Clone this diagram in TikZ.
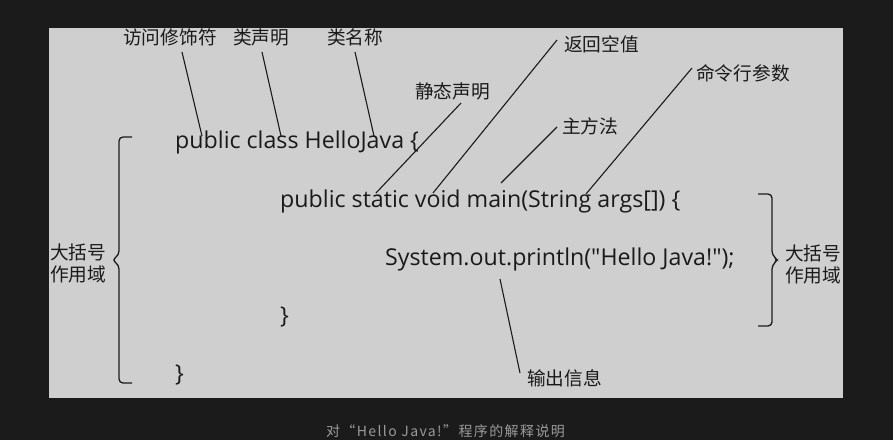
\documentclass[tikz,border=0pt]{standalone}
\usepackage{fontspec}
\setmainfont{Open Sans}
\newfontfamily\cjk{Noto Sans CJK SC}
\newfontfamily\capfont[LetterSpace=10]{Noto Sans CJK SC}
\newfontfamily\codefont{Open Sans}
\definecolor{bgdark}{HTML}{1B1B1B}
\definecolor{panel}{HTML}{CFCFCF}
\definecolor{ink}{HTML}{1A1A1A}
\definecolor{captiongray}{HTML}{9A9A9A}
\begin{document}
\begin{tikzpicture}[x=1pt,y=-1pt,
  code/.style={anchor=base west,inner sep=0pt,text=ink,font=\codefont\fontsize{23.2}{25}\selectfont},
  lbl/.style={anchor=west,inner sep=0pt,text=ink,font=\cjk\fontsize{18.7}{22}\selectfont},
  lbl2/.style={anchor=west,inner sep=0pt,text=ink,align=left,font=\cjk\fontsize{18.7}{22}\selectfont},
  pointer/.style={draw=ink,line width=1.1pt},
  bracestyle/.style={draw=ink,line width=1.3pt,rounded corners=4pt}]
\fill[bgdark] (0,0) rectangle (893,440);
\useasboundingbox (0,0) rectangle (893,440);
\fill[panel] (49,28) rectangle (843,398);

% code
\node[code] (l1) at (175,148) {public class HelloJava \{};
\node[code] (l2) at (280,207) {public static void main(String args[]) \{};
\node[code] (l3) at (385,265) {System.out.println("Hello Java!");};
\node[code] (l4) at (280,323) {\}};
\node[code] (l5) at (175,381) {\}};

% labels
\node[lbl] (fw) at (123,37.5) {访问修饰符};
\node[lbl] (lsm) at (233,37.5) {类声明};
\node[lbl] (lmc) at (327,37.5) {类名称};
\node[lbl] (jt) at (415,91) {静态声明};
\node[lbl] (fh) at (564,44) {返回空值};
\node[lbl] (zff) at (562,126) {主方法};
\node[lbl] (ml) at (696,73) {命令行参数};
\node[lbl] (sc) at (527,378) {输出信息};
\node[lbl2] (kl) at (50,263.5) {大括号\\作用域};
\node[lbl2] (kr) at (785,264) {大括号\\作用域};

% pointer coordinates
\coordinate (a1) at (182,52);  \coordinate (b1) at (202,136);
\coordinate (a2) at (262,52);  \coordinate (b2) at (281,136);
\coordinate (a3) at (355,52);  \coordinate (b3) at (374,136);
\coordinate (a4) at (461,103); \coordinate (b4) at (376,193);
\coordinate (a5) at (557,40);  \coordinate (b5) at (433,193);
\coordinate (a6) at (557,127); \coordinate (b6) at (501,183);
\coordinate (a7) at (692,68);  \coordinate (b7) at (586,194);
\coordinate (a8) at (500,279); \coordinate (b8) at (520,373);

\draw[pointer] (a1) -- (b1);
\draw[pointer] (a2) -- (b2);
\draw[pointer] (a3) -- (b3);
\draw[pointer] (a4) -- (b4);
\draw[pointer] (a5) -- (b5);
\draw[pointer] (a6) -- (b6);
\draw[pointer] (a7) -- (b7);
\draw[pointer] (b8) -- (a8);

% braces
\coordinate (lt) at (132,137); \coordinate (lb) at (132,383); \coordinate (ltip) at (112,260);
\coordinate (rt) at (758,194); \coordinate (rb) at (758,326); \coordinate (rtip) at (778,260);
\draw[bracestyle] (lt) -| (119,255) -- (ltip) -- (119,265) |- (lb);
\draw[bracestyle] (rt) -| (772,255) -- (rtip) -- (772,265) |- (rb);

% caption
\node[anchor=center,inner sep=0pt,text=captiongray,font=\capfont\fontsize{14}{16}\selectfont] (cap) at (445.5,431) {对“Hello Java!”程序的解释说明};
\end{tikzpicture}
\end{document}
